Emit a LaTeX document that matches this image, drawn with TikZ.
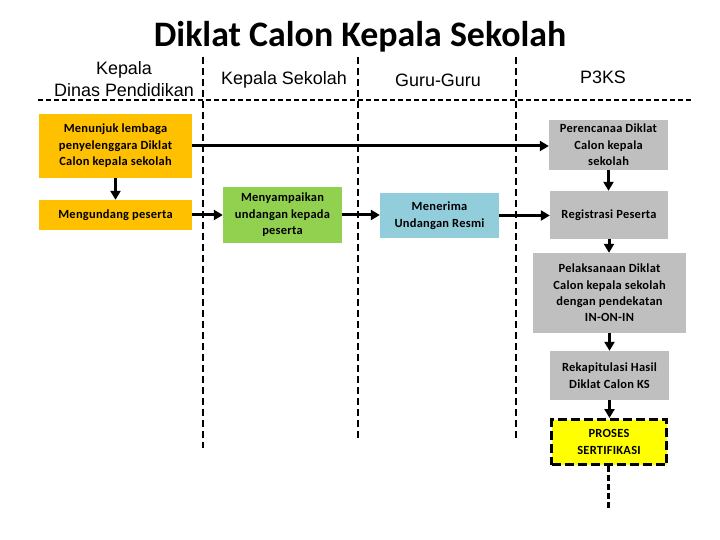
\documentclass[tikz,border=0pt]{standalone}
\usepackage{fontspec}
\setmainfont{Carlito}
\newfontfamily\hdrfont{Liberation Sans}
\newfontfamily\boxfont[LetterSpace=2]{Carlito}
\usetikzlibrary{arrows.meta}
\definecolor{orangebox}{HTML}{FFC000}
\definecolor{greenbox}{HTML}{92D050}
\definecolor{bluebox}{HTML}{92CDDC}
\definecolor{graybox}{HTML}{BFBFBF}
\definecolor{yellowbox}{HTML}{FFFF00}
\tikzset{
  box/.style={rectangle, inner sep=0pt, align=center, font=\boxfont\bfseries\fontsize{12.5}{16.5}\selectfont},
  obox/.style={box, fill=orangebox},
  gbox/.style={box, fill=greenbox},
  bbox/.style={box, fill=bluebox},
  ybox/.style={box, fill=graybox},
  pbox/.style={box, fill=yellowbox, draw=black, line width=3bp, dash pattern=on 9bp off 4bp},
  hdr/.style={font=\hdrfont\fontsize{18}{22}\selectfont, align=center, inner sep=0pt},
  lane/.style={line width=1.8bp, dash pattern=on 7bp off 4bp},
  flow/.style={line width=3bp, -{Triangle[length=9bp,width=10bp]}},
}
\begin{document}
\begin{tikzpicture}[x=1bp,y=-1bp]
\useasboundingbox (0,0) rectangle (720,540);
% title
\node[font=\bfseries\fontsize{36}{40}\selectfont, inner sep=0pt] (title) at (360,37) {Diklat Calon Kepala Sekolah};
% lanes
\coordinate (l1t) at (203,57); \coordinate (l1b) at (203,448);
\coordinate (l2t) at (358,57); \coordinate (l2b) at (358,442);
\coordinate (l3t) at (516,57); \coordinate (l3b) at (516,442);
\coordinate (hl) at (38,100); \coordinate (hr) at (693,100);
\draw[lane] (l1t) -- (l1b);
\draw[lane] (l2t) -- (l2b);
\draw[lane] (l3t) -- (l3b);
\draw[lane, line width=1.6bp, dash pattern=on 5bp off 3bp] (hl) -- (hr);
% headers
\node[hdr] (h1) at (124,79) {Kepala\\Dinas Pendidikan};
\node[hdr] (h2) at (284,80) {Kepala Sekolah};
\node[hdr] (h3) at (438,80) {Guru-Guru};
\node[hdr] (h4) at (603,77) {P3KS};
% boxes
\node[obox, minimum width=153bp, minimum height=64bp] (b1) at (115.5,146) {Menunjuk lembaga\\penyelenggara Diklat\\Calon kepala sekolah};
\node[obox, minimum width=153bp, minimum height=30bp] (b2) at (115.5,215) {Mengundang peserta};
\node[gbox, minimum width=119bp, minimum height=56bp] (b3) at (282.5,215) {Menyampaikan\\undangan kepada\\peserta};
\node[bbox, minimum width=119bp, minimum height=45bp] (b4) at (439.5,215.5) {Menerima\\Undangan Resmi};
\node[ybox, minimum width=119bp, minimum height=50bp] (b5) at (608.5,145) {Perencanaa Diklat\\Calon kepala\\sekolah};
\node[ybox, minimum width=118bp, minimum height=48bp] (b6) at (609,215) {Registrasi Peserta};
\node[ybox, minimum width=153bp, minimum height=80bp] (b7) at (609.5,293) {Pelaksanaan Diklat\\Calon kepala sekolah\\dengan pendekatan\\IN-ON-IN};
\node[ybox, minimum width=119bp, minimum height=49bp] (b8) at (609.5,375.5) {Rekapitulasi Hasil\\Diklat Calon KS};
\node[pbox, minimum width=115bp, minimum height=45bp] (b9) at (609,442) {PROSES\\SERTIFIKASI};
\coordinate (end) at (608,511);
% connectors
\draw[flow] (b1.east) -- (b1.east -| b5.west);
\draw[flow] (b1.south) -- (b2.north);
\draw[flow] (b2.east) -- (b3.west);
\draw[flow] (b3.east) -- (b3.east -| b4.west);
\draw[flow] (b4.east) -- (b4.east -| b6.west);
\draw[flow] (b5.south) -- (b5.south |- b6.north);
\draw[flow] (b6.south) -- (b6.south |- b7.north);
\draw[flow] (b7.south) -- (b7.south |- b8.north);
\draw[flow] (b8.south) -- (b8.south |- b9.north);
\draw[line width=3bp, dash pattern=on 6bp off 3bp] (b9.south -| end) -- (end);
\end{tikzpicture}
\end{document}
